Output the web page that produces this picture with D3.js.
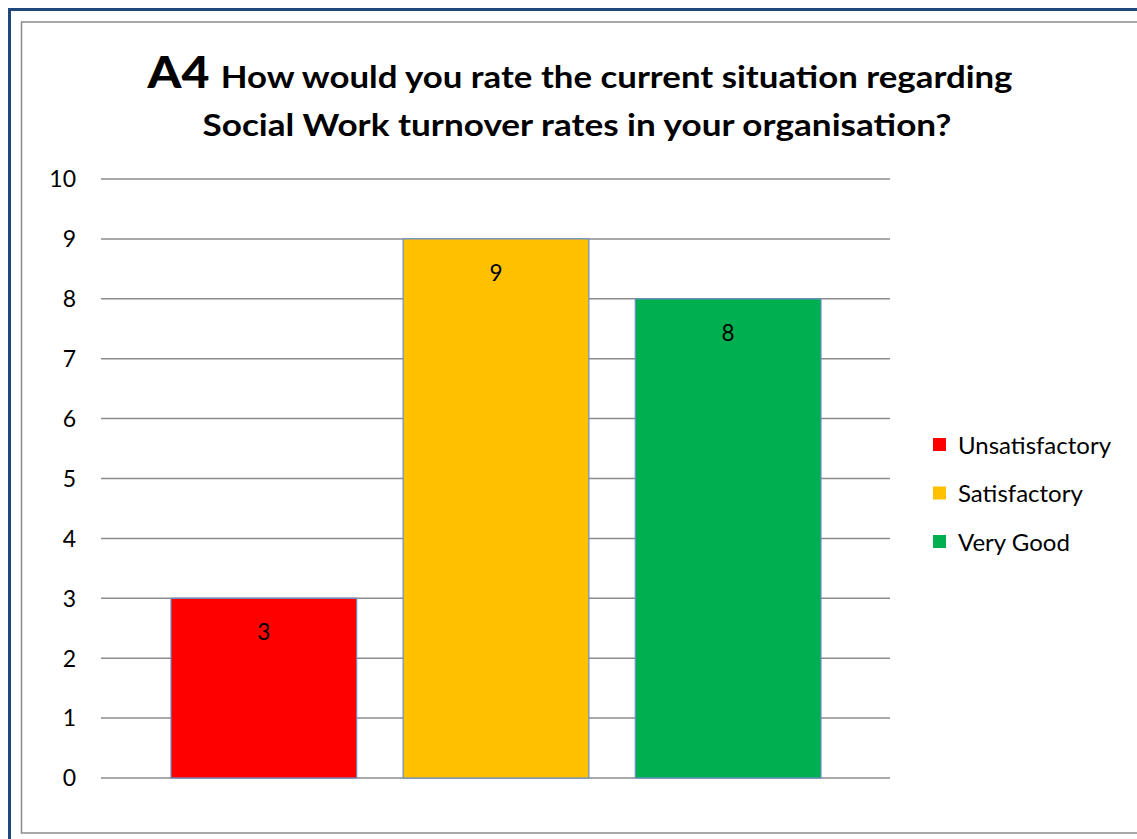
<!DOCTYPE html>
<html>
<head>
<meta charset="utf-8">
<script src="https://cdn.jsdelivr.net/npm/d3@7"></script>
<style>
  html, body { margin: 0; padding: 0; background: #fff; }
  svg { display: block; font-family: Lato, "Open Sans", sans-serif; }
</style>
</head>
<body>
<svg id="chart" width="1137" height="839"></svg>
<script>
// Survey responses for question A4
const series = ["Unsatisfactory", "Satisfactory", "Very Good"];
const counts = [3, 9, 8];
const colors = ["#FF0000", "#FFC000", "#00B050"];
const yTicks = [0, 1, 2, 3, 4, 5, 6, 7, 8, 9, 10];
const titleLead = "A4";
const titleLine1 = "How would you rate the current situation regarding";
const titleLine2 = "Social Work turnover rates in your organisation?";

const svg = d3.select("#chart");

// frame: outer blue border and inner grey chart-area border
svg.append("rect")
  .attr("x", 9.5).attr("y", 9.5).attr("width", 1140).attr("height", 840)
  .attr("fill", "#fff").attr("stroke", "#1F497D").attr("stroke-width", 3);
svg.append("rect")
  .attr("x", 21.5).attr("y", 22).attr("width", 1130).attr("height", 811)
  .attr("fill", "#fff").attr("stroke", "#8C8C8C").attr("stroke-width", 1.5);

const plot = { left: 101, right: 890, top: 179, bottom: 778 };

const y = d3.scaleLinear().domain([0, 10]).range([plot.bottom, plot.top]);
const x = d3.scaleBand().domain(series)
  .range([plot.left + 70, plot.right - 69])
  .paddingInner(0.2).paddingOuter(0);

// horizontal gridlines
svg.append("g")
  .selectAll("line").data(yTicks).join("line")
  .attr("x1", plot.left).attr("x2", plot.right)
  .attr("y1", d => y(d)).attr("y2", d => y(d))
  .attr("stroke", "#8C8C8C").attr("stroke-width", 1.5);

// y axis labels
const yAxis = d3.axisLeft(y).tickValues(yTicks).tickSize(0).tickPadding(0);
const gy = svg.append("g").attr("transform", `translate(${plot.left - 25},0)`).call(yAxis);
gy.select(".domain").remove();
gy.selectAll("text")
  .attr("font-family", "Lato, 'Open Sans', sans-serif")
  .attr("font-size", 23).attr("fill", "#000")
  .attr("dy", "0.34em");

// bars
svg.append("g")
  .selectAll("rect").data(series).join("rect")
  .attr("x", d => x(d))
  .attr("y", (d, i) => y(counts[i]))
  .attr("width", x.bandwidth())
  .attr("height", (d, i) => y(0) - y(counts[i]))
  .attr("fill", (d, i) => colors[i])
  .attr("stroke", "#6A8FC7").attr("stroke-width", 1.2);

// value labels inside top of bars
svg.append("g")
  .selectAll("text").data(series).join("text")
  .attr("x", d => x(d) + x.bandwidth() / 2)
  .attr("y", (d, i) => y(counts[i]) + 42)
  .attr("text-anchor", "middle")
  .attr("font-size", 22.5).attr("fill", "#000")
  .text((d, i) => counts[i]);

// title, two centred lines
const title = svg.append("text")
  .attr("x", 580).attr("y", 88).attr("text-anchor", "middle")
  .attr("font-weight", 900).attr("fill", "#000");
title.append("tspan").attr("font-size", 43).text(titleLead + " ");
title.append("tspan").attr("font-size", 31).attr("font-weight", "bold").text(titleLine1);
title.attr("textLength", 865).attr("lengthAdjust", "spacingAndGlyphs");

svg.append("text")
  .attr("x", 577).attr("y", 136).attr("text-anchor", "middle")
  .attr("font-weight", "bold").attr("font-size", 31).attr("fill", "#000")
  .attr("textLength", 749).attr("lengthAdjust", "spacingAndGlyphs")
  .text(titleLine2);

// legend
const legend = svg.append("g")
  .selectAll("g").data(series).join("g")
  .attr("transform", (d, i) => `translate(933,${445 + i * 48.5})`);
legend.append("rect")
  .attr("x", 0).attr("y", -7).attr("width", 13).attr("height", 13)
  .attr("fill", (d, i) => colors[i]);
legend.append("text")
  .attr("x", 25).attr("y", 0).attr("dy", "0.36em")
  .attr("font-size", 24).attr("fill", "#000")
  .text(d => d);
</script>
</body>
</html>
